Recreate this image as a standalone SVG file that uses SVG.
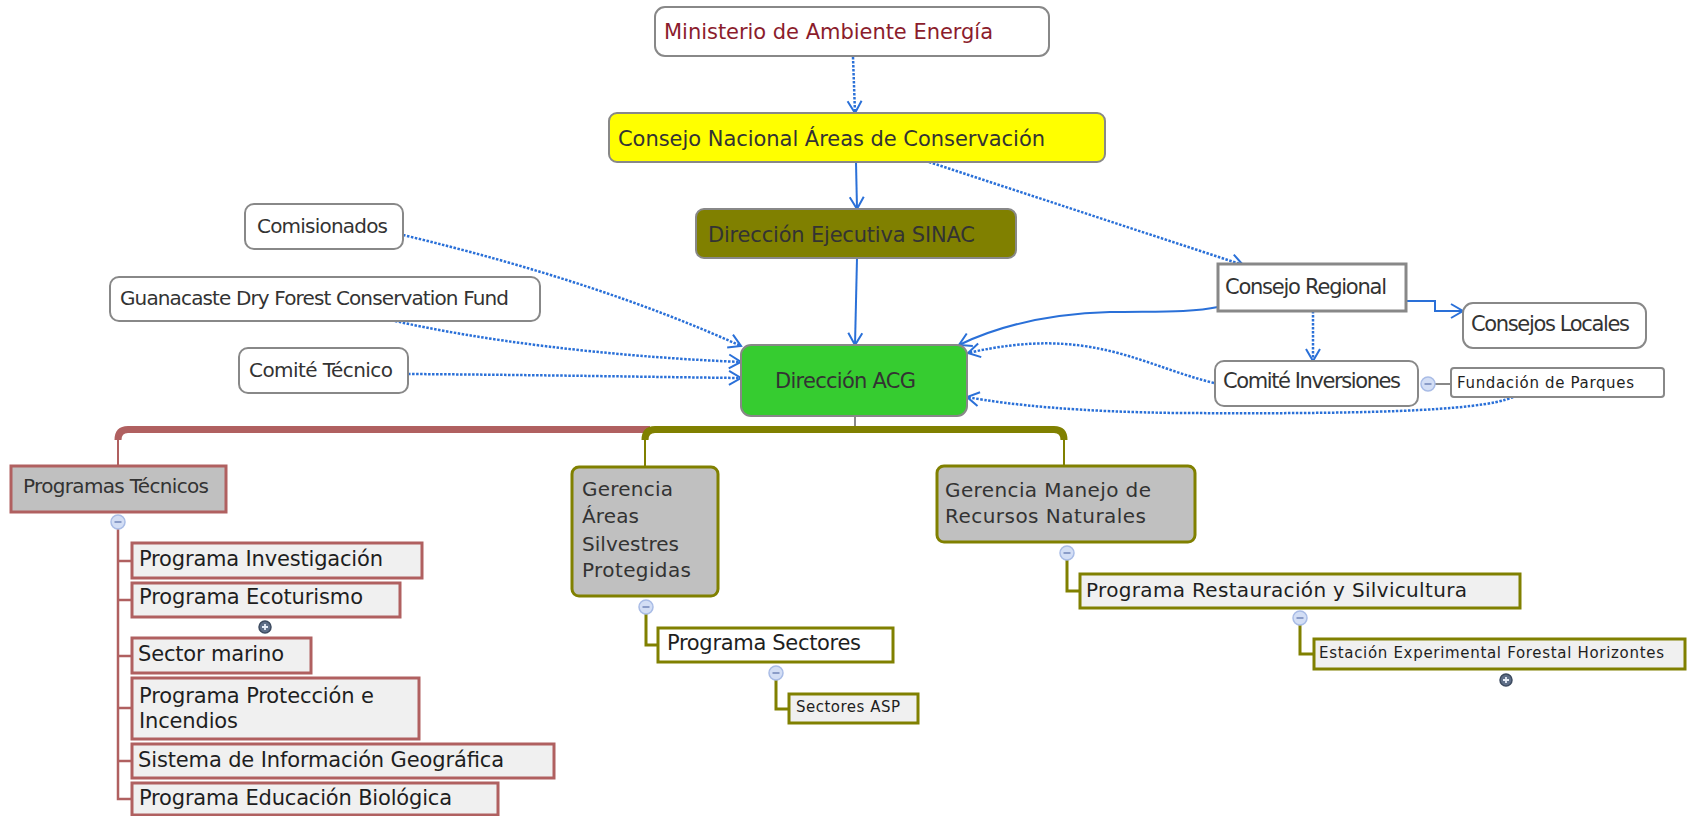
<svg xmlns="http://www.w3.org/2000/svg" width="1687" height="816" viewBox="0 0 1687 816">
<style>
text{font-family:"DejaVu Sans","Liberation Sans",sans-serif;fill:#333;font-size:20px}
.s15{font-size:15px}
.s21{font-size:21px}
.dk{fill:#1e1e1e}
.wb{fill:#fff;stroke:#888;stroke-width:2}
.ch{fill:#f0f0f0;stroke:#b06060;stroke-width:3}
.co{stroke:#808000;stroke-width:3}
.bl{fill:none;stroke:#2a70d8;stroke-width:2}
.dt{stroke-dasharray:2.5 1.5;stroke-width:2.5}
.ar{marker-end:url(#arr)}
.rd{fill:none;stroke:#b06060}
.ol{fill:none;stroke:#808000}
</style>
<defs>
<marker id="arr" markerUnits="userSpaceOnUse" markerWidth="16" markerHeight="18" refX="13" refY="8" orient="auto" overflow="visible">
<path d="M1,1 L13,8 L1,15" fill="none" stroke="#2a70d8" stroke-width="2" stroke-dasharray="none"/>
</marker>
<g id="mn"><circle r="7" fill="#d3def5" stroke="#a9bce6" stroke-width="1.5"/><line x1="-3.5" y1="0" x2="3.5" y2="0" stroke="#8a9cc8" stroke-width="2"/></g>
<g id="pl"><circle r="6" fill="#5f6f88" stroke="#3d4b60" stroke-width="1.5"/><path d="M-3,0H3M0,-3V3" stroke="#e8eef8" stroke-width="1.8"/></g>
</defs>

<g id="connectors">
<path class="bl dt ar" d="M853,57 L855,113"/>
<path class="bl ar" d="M856,162 L857,209"/>
<path class="bl ar" d="M857,258 L855,345"/>
<path class="bl dt ar" d="M929,162 L1243,265"/>
<path class="bl dt ar" d="M403,235 Q600,282 741,346"/>
<path class="bl dt ar" d="M395,321 C480,340 600,356 741,362"/>
<path class="bl dt ar" d="M408,374 C550,375 650,377 741,378"/>
<path class="bl ar" d="M1218,307 C1190,313 1150,311 1110,312 C1040,314 990,330 959,345"/>
<path class="bl dt ar" d="M1214,383 C1140,365 1090,325 968,353"/>
<path class="bl dt ar" d="M1513,397 C1480,412 1350,414 1180,413 C1080,412 1010,405 967,397"/>
<path class="bl ar" d="M1406,301 H1435 V311 H1463"/>
<path class="bl dt ar" d="M1313,311 V361"/>
<path d="M855,416 V430" stroke="#888" stroke-width="2"/>
<path d="M1435,384 H1451" stroke="#888" stroke-width="2"/>
<path class="rd" stroke-width="7" d="M650,429.5 H128 Q118,429.5 118,440"/>
<path class="rd" stroke-width="2" d="M118,436 V466"/>
<path class="rd" stroke-width="2.5" d="M118,529 V799 H132 M118,561 H132 M118,600 H132 M118,656 H132 M118,708 H132 M118,761 H132"/>
<path class="ol" stroke-width="7" d="M645,440 Q645,429.5 655,429.5 H1054 Q1064,429.5 1064,440"/>
<path class="ol" stroke-width="2" d="M645,436 V467 M1064,436 V466"/>
<path class="ol" stroke-width="3" d="M646,614 V645 H658 M776,680 V709 H789 M1067,560 V591 H1080 M1300,625 V654 H1314"/>
<use href="#mn" x="118" y="522"/>
<use href="#mn" x="646" y="607"/>
<use href="#mn" x="776" y="673"/>
<use href="#mn" x="1067" y="553"/>
<use href="#mn" x="1300" y="618"/>
<use href="#mn" x="1428" y="384"/>
<use href="#pl" x="265" y="627"/>
<use href="#pl" x="1506" y="680"/>
</g>

<g id="n-ministerio"><rect class="wb" x="655" y="7" width="394" height="49" rx="10"/><text class="s21" x="664" y="39" style="fill:#8b1c2c" textLength="329">Ministerio de Ambiente Energía</text></g>
<g id="n-consejo-nacional"><rect x="609" y="113" width="496" height="49" rx="8" fill="#ffff00" stroke="#888" stroke-width="2"/><text class="s21" x="618" y="146" textLength="427">Consejo Nacional Áreas de Conservación</text></g>
<g id="n-direccion-ejecutiva"><rect x="696" y="209" width="320" height="49" rx="8" fill="#808000" stroke="#888" stroke-width="2"/><text class="s21" x="708" y="242" textLength="267">Dirección Ejecutiva SINAC</text></g>
<g id="n-direccion-acg"><rect x="741" y="345" width="226" height="71" rx="10" fill="#36cc30" stroke="#888" stroke-width="2"/><text class="s21" x="775" y="388" textLength="141">Dirección ACG</text></g>
<g id="n-comisionados"><rect class="wb" x="245" y="204" width="158" height="45" rx="9"/><text x="257" y="233" textLength="131">Comisionados</text></g>
<g id="n-guanacaste"><rect class="wb" x="110" y="277" width="430" height="44" rx="9"/><text x="120" y="305" textLength="389">Guanacaste Dry Forest Conservation Fund</text></g>
<g id="n-comite-tecnico"><rect class="wb" x="239" y="348" width="169" height="45" rx="9"/><text x="249" y="377" textLength="144">Comité Técnico</text></g>
<g id="n-consejo-regional"><rect x="1218" y="264" width="188" height="47" fill="#fff" stroke="#888" stroke-width="3"/><text class="s21" x="1225" y="294" textLength="162">Consejo Regional</text></g>
<g id="n-consejos-locales"><rect class="wb" x="1463" y="303" width="183" height="45" rx="10"/><text class="s21" x="1471" y="331" textLength="159">Consejos Locales</text></g>
<g id="n-comite-inversiones"><rect class="wb" x="1215" y="361" width="203" height="45" rx="9"/><text class="s21" x="1223" y="388" textLength="178">Comité Inversiones</text></g>
<g id="n-fundacion"><rect class="wb" x="1451" y="368" width="213" height="29" rx="3"/><text class="s15 dk" x="1457" y="388" textLength="177">Fundación de Parques</text></g>

<g id="n-programas-tecnicos"><rect x="11" y="466" width="215" height="46" fill="#c0c0c0" stroke="#b06060" stroke-width="3"/><text x="23" y="493" textLength="186">Programas Técnicos</text></g>
<g id="n-investigacion"><rect class="ch" x="132" y="543" width="290" height="35"/><text class="s21 dk" x="139" y="566" textLength="244">Programa Investigación</text></g>
<g id="n-ecoturismo"><rect class="ch" x="132" y="583" width="268" height="34"/><text class="s21 dk" x="139" y="604" textLength="224">Programa Ecoturismo</text></g>
<g id="n-sector-marino"><rect class="ch" x="132" y="638" width="179" height="35"/><text class="s21 dk" x="138" y="661" textLength="146">Sector marino</text></g>
<g id="n-proteccion"><rect class="ch" x="132" y="678" width="287" height="61"/><text class="s21 dk" x="139" y="703" textLength="235">Programa Protección e</text><text class="s21 dk" x="139" y="728" textLength="99">Incendios</text></g>
<g id="n-sig"><rect class="ch" x="132" y="744" width="422" height="34"/><text class="s21 dk" x="138" y="767" textLength="366">Sistema de Información Geográfica</text></g>
<g id="n-educacion"><rect class="ch" x="132" y="783" width="366" height="32"/><text class="s21 dk" x="139" y="805" textLength="313">Programa Educación Biológica</text></g>

<g id="n-gerencia-asp"><rect x="572" y="467" width="146" height="129" rx="7" fill="#c0c0c0" class="co"/><text x="582" y="496" textLength="91">Gerencia</text><text x="582" y="523" textLength="57">Áreas</text><text x="582" y="551" textLength="97">Silvestres</text><text x="582" y="577" textLength="109">Protegidas</text></g>
<g id="n-programa-sectores"><rect x="658" y="628" width="235" height="34" fill="#fff" class="co"/><text class="s21 dk" x="667" y="650" textLength="194">Programa Sectores</text></g>
<g id="n-sectores-asp"><rect x="789" y="694" width="129" height="29" fill="#f0f0f0" class="co"/><text class="s15 dk" x="796" y="712" textLength="104">Sectores ASP</text></g>
<g id="n-gerencia-mrn"><rect x="937" y="466" width="258" height="76" rx="7" fill="#c0c0c0" class="co"/><text x="945" y="497" textLength="206">Gerencia Manejo de</text><text x="945" y="523" textLength="201">Recursos Naturales</text></g>
<g id="n-restauracion"><rect x="1080" y="574" width="440" height="34" fill="#f0f0f0" class="co"/><text class="dk" x="1086" y="597" textLength="381">Programa Restauración y Silvicultura</text></g>
<g id="n-estacion"><rect x="1314" y="639" width="371" height="30" fill="#f0f0f0" class="co"/><text class="s15 dk" x="1319" y="658" textLength="345">Estación Experimental Forestal Horizontes</text></g>
</svg>
